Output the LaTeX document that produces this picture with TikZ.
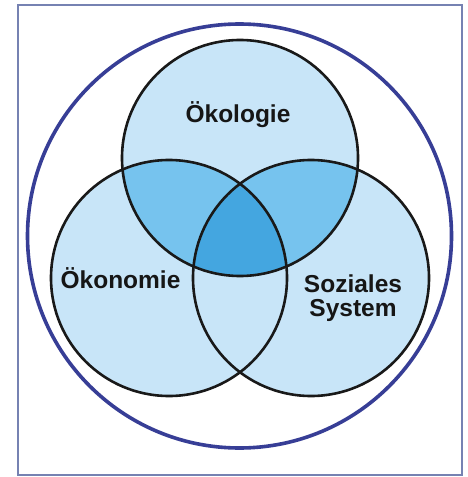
\documentclass[tikz,border=0pt]{standalone}
\usepackage{fontspec}
\setmainfont{Liberation Sans}
\definecolor{lightfill}{RGB}{200,229,248}
\definecolor{midfill}{RGB}{118,195,238}
\definecolor{darkfill}{RGB}{68,166,224}
\definecolor{outerblue}{RGB}{55,62,150}
\definecolor{framecol}{RGB}{118,130,178}
\definecolor{textcol}{RGB}{22,22,22}
\begin{document}
\begin{tikzpicture}[x=1bp,y=-1bp,
  framebox/.style={draw=framecol,line width=1.5bp},
  outerring/.style={draw=outerblue,line width=3.6bp},
  setline/.style={draw=black!90,line width=2.6bp},
  label/.style={font=\fontsize{24.5bp}{24bp}\selectfont\bfseries,text=textcol,align=center,inner sep=0pt}]
\useasboundingbox (0,0) rectangle (468,477);
\fill[white] (0,0) rectangle (468,477);
\coordinate (cO) at (239.5,236);
\coordinate (cT) at (240,158);
\coordinate (cL) at (169,278);
\coordinate (cR) at (311,278);
\def\rr{118}
% frame
\draw[framebox] (18,5) rectangle (462,475);
% outer ring
\draw[outerring] (cO) circle[radius=212];
% single fills
\fill[lightfill] (cT) circle[radius=\rr];
\fill[lightfill] (cL) circle[radius=\rr];
\fill[lightfill] (cR) circle[radius=\rr];
% overlaps with the top circle
\begin{scope}
  \clip (cT) circle[radius=\rr];
  \fill[midfill] (cL) circle[radius=\rr];
  \fill[midfill] (cR) circle[radius=\rr];
  \clip (cL) circle[radius=\rr];
  \fill[darkfill] (cR) circle[radius=\rr];
\end{scope}
% outlines
\draw[setline] (cT) circle[radius=\rr];
\draw[setline] (cL) circle[radius=\rr];
\draw[setline] (cR) circle[radius=\rr];
% labels
\node[label,anchor=base] (oeko) at (238,123) {Ökologie};
\node[label,anchor=base] (oekon) at (120.5,288) {Ökonomie};
\node[label] (sozial) at (353,298) {Soziales\\System};
\end{tikzpicture}
\end{document}
